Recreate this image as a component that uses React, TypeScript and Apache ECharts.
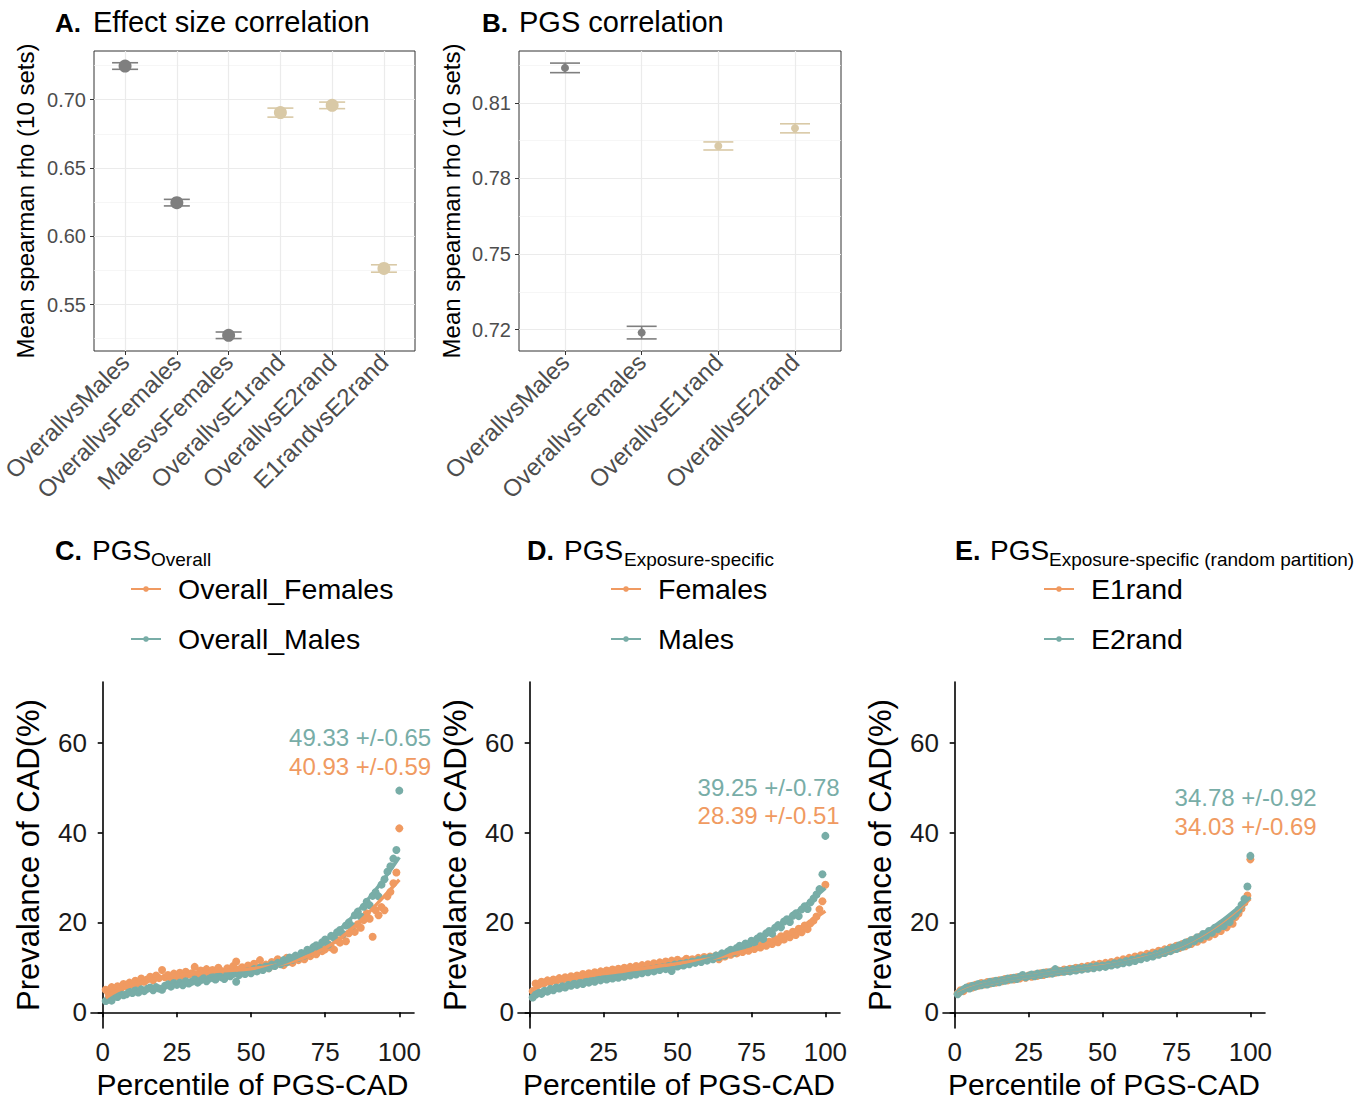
import React, { useEffect, useRef } from "react";
import * as echarts from "echarts";

const FONT = '"Liberation Sans", Arial, Helvetica, sans-serif';
const ORANGE = "#F09A61";
const TEAL = "#78ADA7";
const GREY = "#7F7F7F";
const TAN = "#D9C9A6";

// ---------- Panel A ----------
const catsA = ["OverallvsMales", "OverallvsFemales", "MalesvsFemales", "OverallvsE1rand", "OverallvsE2rand", "E1randvsE2rand"];
const rhoA = [0.7246, 0.6246, 0.5275, 0.6905, 0.6958, 0.5764];
const seA = [0.0024, 0.0024, 0.0024, 0.0033, 0.0024, 0.0027];
const groupA = ["sex", "sex", "sex", "rand", "rand", "rand"];
const ticksA = [0.55, 0.6, 0.65, 0.7];

// ---------- Panel B ----------
const catsB = ["OverallvsMales", "OverallvsFemales", "OverallvsE1rand", "OverallvsE2rand"];
const rhoB = [0.8239, 0.7188, 0.7929, 0.7999];
const seB = [0.0019, 0.0025, 0.0016, 0.0018];
const groupB = ["sex", "sex", "rand", "rand"];
const ticksB = [0.72, 0.75, 0.78, 0.81];

// ---------- Bottom panels ----------
const xTicks = [0, 25, 50, 75, 100];
const yTicks = [0, 20, 40, 60];
const fitX = [1, 5, 10, 15, 20, 25, 30, 35, 40, 45, 50, 55, 60, 65, 70, 75, 80, 85, 90, 95, 100];

// C: PGS Overall
const cMales = [
  2.5, 3.0, 2.6, 3.7, 3.4, 4.1, 3.8, 4.0, 4.6, 4.3,
  4.9, 4.4, 5.1, 4.7, 5.2, 5.5, 4.9, 5.6, 5.3, 5.0,
  5.9, 6.2, 5.7, 6.5, 6.1, 6.6, 6.0, 6.9, 6.4, 6.8,
  7.3, 6.6, 7.1, 7.6, 6.9, 7.5, 7.9, 7.3, 8.2, 7.8,
  7.4, 8.5, 8.0, 8.6, 6.8, 8.3, 8.9, 8.5, 9.2, 8.7,
  9.6, 9.1, 9.9, 9.4, 10.2, 9.8, 10.6, 10.3, 11.0, 10.7,
  11.6, 11.1, 12.2, 11.7, 12.6, 12.1, 13.2, 12.6, 13.9, 13.3,
  14.5, 14.9, 14.2, 15.6, 16.2, 15.1, 17.0, 16.5, 17.8, 18.3,
  17.4, 19.3, 20.0, 19.2, 21.6, 22.4, 21.3, 23.5, 24.6, 23.8,
  25.9, 26.7, 25.8, 28.4, 29.6, 31.3, 32.5, 34.2, 36.1, 49.33,
];
const cFemales = [
  5.0, 4.2, 5.6, 4.9, 5.8, 5.2, 6.3, 5.7, 6.6, 6.1,
  7.0, 6.4, 7.5, 6.8, 7.3, 7.9, 7.1, 8.2, 7.6, 9.4,
  7.8, 8.3, 7.5, 8.6, 8.0, 8.8, 8.1, 9.0, 8.4, 8.7,
  10.1, 8.5, 9.3, 8.8, 9.6, 8.6, 9.4, 9.0, 9.9, 9.2,
  8.7, 9.8, 9.1, 10.3, 11.3, 9.5, 10.0, 9.2, 10.4, 9.6,
  10.8, 9.9, 11.6, 10.2, 10.6, 9.8, 11.2, 10.4, 11.8, 10.9,
  10.5, 12.1, 11.3, 11.0, 12.4, 11.6, 12.2, 11.8, 13.0, 12.5,
  13.4, 12.9, 14.6, 13.6, 14.0, 15.2, 14.4, 13.9, 16.1, 15.5,
  17.2, 15.8, 17.6, 18.4, 17.9, 19.6, 18.8, 20.5, 22.0, 20.8,
  16.8, 22.7, 21.6, 23.4, 22.7, 25.8, 26.8, 28.7, 31.1, 40.93,
];
const cMalesFit = [2.0, 3.3, 4.3, 5.0, 5.6, 6.2, 6.7, 7.2, 7.7, 8.2, 8.8, 9.7, 10.8, 12.1, 13.8, 15.9, 18.5, 21.8, 25.6, 29.8, 34.5];
const cFemalesFit = [3.2, 4.8, 6.0, 7.0, 7.7, 8.2, 8.6, 8.9, 9.2, 9.4, 9.7, 10.1, 10.7, 11.5, 12.7, 14.3, 16.4, 19.2, 22.4, 25.9, 29.5];

// D: PGS Exposure-specific
const dMales = [
  3.3, 3.9, 4.4, 4.1, 4.8, 4.6, 5.2, 4.9, 5.5, 5.3,
  5.8, 5.5, 6.1, 5.9, 6.4, 6.1, 6.6, 6.3, 6.9, 6.6,
  7.2, 6.8, 7.4, 7.1, 7.6, 7.3, 7.8, 7.5, 8.1, 7.7,
  8.3, 7.9, 8.5, 8.2, 8.8, 8.4, 9.0, 8.7, 9.3, 8.9,
  9.5, 9.1, 9.8, 9.4, 10.0, 9.6, 10.3, 9.2, 10.6, 10.2,
  10.8, 10.4, 11.0, 10.7, 11.3, 11.0, 11.6, 11.2, 11.9, 11.5,
  12.2, 11.8, 12.6, 12.3, 13.1, 12.7, 13.5, 13.9, 13.3, 14.3,
  14.8, 14.2, 15.3, 15.0, 15.9, 15.5, 16.4, 16.9, 16.3, 17.6,
  18.1, 17.5, 18.8, 19.4, 18.9, 20.2, 20.7, 20.1, 21.5, 22.0,
  21.4, 22.9, 23.6, 23.0, 24.5, 25.3, 26.2, 27.4, 30.7, 39.25,
];
const dFemales = [
  4.7, 6.4, 6.1, 6.8, 6.5, 7.1, 6.7, 7.3, 7.0, 7.6,
  7.2, 7.8, 7.4, 8.0, 7.7, 8.2, 7.9, 8.5, 8.1, 8.7,
  8.4, 8.9, 8.5, 9.1, 8.8, 9.3, 8.9, 9.5, 9.1, 9.7,
  9.3, 9.9, 9.5, 10.1, 9.7, 10.3, 9.8, 10.5, 10.0, 10.7,
  10.2, 10.9, 10.4, 11.1, 10.6, 11.3, 10.8, 11.5, 11.0, 11.7,
  11.2, 11.4, 11.9, 11.3, 11.8, 11.5, 12.1, 11.7, 12.3, 11.9,
  12.4, 12.0, 12.6, 11.8, 12.9, 12.4, 13.2, 12.8, 13.5, 13.1,
  13.8, 13.4, 14.2, 13.7, 14.5, 14.1, 14.9, 14.4, 15.3, 14.8,
  15.7, 15.2, 16.3, 15.6, 16.9, 16.2, 17.4, 16.7, 17.9, 17.2,
  18.6, 17.8, 19.3, 18.5, 19.8, 20.4, 21.3, 22.9, 24.7, 28.39,
];
const dMalesFit = [3.3, 4.6, 5.5, 6.2, 6.8, 7.3, 7.8, 8.3, 8.8, 9.4, 10.0, 10.7, 11.6, 12.8, 14.3, 15.9, 17.7, 19.8, 22.2, 24.8, 27.6];
const dFemalesFit = [5.0, 6.2, 7.0, 7.6, 8.1, 8.6, 9.0, 9.5, 9.9, 10.4, 10.8, 11.3, 11.8, 12.4, 13.2, 14.1, 15.2, 16.6, 18.3, 20.3, 22.5];

// E: PGS Exposure-specific (random partition)
const eE2 = [
  4.0, 4.6, 5.1, 5.5, 5.3, 5.9, 5.7, 6.3, 6.0, 6.4,
  6.2, 6.8, 6.5, 7.0, 6.7, 7.2, 7.0, 7.5, 7.3, 7.7,
  7.4, 7.9, 8.3, 7.8, 8.1, 8.4, 8.0, 8.6, 8.3, 8.8,
  8.5, 8.9, 8.6, 9.6, 8.9, 9.2, 9.0, 9.4, 9.1, 9.6,
  9.3, 9.8, 9.5, 9.9, 9.7, 10.1, 9.8, 10.3, 10.0, 10.4,
  10.1, 10.6, 10.4, 10.9, 10.6, 11.1, 10.9, 11.4, 11.1, 11.7,
  11.4, 12.0, 11.8, 12.3, 12.1, 12.6, 12.4, 13.0, 12.8, 13.4,
  13.2, 13.9, 13.6, 14.4, 14.1, 14.9, 14.6, 15.5, 15.1, 16.1,
  15.8, 16.7, 16.4, 17.4, 17.0, 18.1, 17.7, 18.8, 18.5, 19.6,
  19.2, 20.4, 20.1, 21.3, 21.9, 22.8, 23.9, 25.2, 28.0, 34.78,
];
const eE1 = [
  4.2, 4.9, 4.7, 5.4, 5.8, 5.5, 6.1, 5.9, 6.5, 6.2,
  6.7, 6.4, 6.9, 6.6, 7.1, 6.9, 7.4, 7.1, 7.6, 7.3,
  7.8, 7.5, 8.0, 7.7, 8.2, 7.9, 8.4, 8.1, 8.7, 8.3,
  8.9, 8.6, 9.1, 8.8, 9.3, 9.0, 9.5, 9.2, 9.7, 9.4,
  9.9, 9.6, 10.1, 9.8, 10.3, 10.0, 10.6, 10.2, 10.8, 10.4,
  11.0, 10.6, 11.2, 10.9, 11.5, 11.1, 11.8, 11.4, 12.1, 11.7,
  12.4, 12.0, 12.7, 12.3, 13.0, 12.6, 13.3, 12.9, 13.7, 13.2,
  14.0, 13.6, 14.4, 14.0, 14.8, 14.3, 15.2, 14.7, 15.7, 15.2,
  16.2, 15.7, 16.8, 16.2, 17.4, 16.8, 18.0, 17.4, 18.7, 18.1,
  19.4, 18.9, 20.2, 19.7, 21.2, 22.0, 23.1, 24.4, 26.0, 34.03,
];
const eE2Fit = [4.0, 5.2, 6.2, 6.9, 7.5, 8.0, 8.5, 9.0, 9.4, 9.8, 10.2, 10.8, 11.4, 12.2, 13.2, 14.5, 16.0, 17.9, 20.2, 22.8, 25.6];
const eE1Fit = [4.1, 5.3, 6.2, 6.9, 7.5, 8.0, 8.5, 9.0, 9.4, 9.8, 10.3, 10.8, 11.5, 12.3, 13.2, 14.4, 15.9, 17.7, 19.9, 22.5, 25.3];

// top percentile estimates with standard errors (annotations)
const topC = { males: [49.33, 0.65], females: [40.93, 0.59] };
const topD = { males: [39.25, 0.78], females: [28.39, 0.51] };
const topE = { e2: [34.78, 0.92], e1: [34.03, 0.69] };
// annotation anchor positions in data units [x, y]
const annC = [[86.8, 61.2], [86.8, 54.6]];
const annD = [[80.8, 50.1], [80.8, 43.7]];
const annE = [[98.4, 47.9], [98.4, 41.4]];

const pct = Array.from({ length: 100 }, (_, i) => i + 1);

function errRender(capW: number, lw: number) {
  return (params: any, api: any) => {
    const x = api.value(0);
    const y = api.value(1);
    const se = api.value(2);
    const top = api.coord([x, y + se]);
    const bot = api.coord([x, y - se]);
    const color = api.visual("color");
    const style = { stroke: color, lineWidth: lw };
    return {
      type: "group",
      children: [
        { type: "line", shape: { x1: top[0], y1: top[1], x2: bot[0], y2: bot[1] }, style },
        { type: "line", shape: { x1: top[0] - capW / 2, y1: top[1], x2: top[0] + capW / 2, y2: top[1] }, style },
        { type: "line", shape: { x1: bot[0] - capW / 2, y1: bot[1], x2: bot[0] + capW / 2, y2: bot[1] }, style },
      ],
    };
  };
}

function topAxes(grid: number, cats: string[], rhoMin: number, rhoMax: number, ticks: number[], splitNumber: number) {
  const idx = cats.map((_, i) => i + 1);
  const x = {
    gridIndex: grid,
    type: "value",
    min: 0.4,
    max: cats.length + 0.6,
    axisLine: { show: false },
    axisTick: { show: true, customValues: idx, length: 4, lineStyle: { color: "#333333", width: 1 } },
    axisLabel: {
      customValues: idx,
      rotate: 45,
      fontSize: 24,
      color: "#4D4D4D",
      fontFamily: FONT,
      margin: 7,
      formatter: (v: number) => cats[Math.round(v) - 1] || "",
    },
    splitLine: { show: true, lineStyle: { color: "#EBEBEB", width: 1.2 } },
  };
  const y = {
    gridIndex: grid,
    type: "value",
    min: rhoMin,
    max: rhoMax,
    splitNumber,
    axisLine: { show: false },
    axisTick: { show: true, customValues: ticks, length: 4, lineStyle: { color: "#333333", width: 1 } },
    axisLabel: {
      customValues: ticks,
      fontSize: 20,
      color: "#4D4D4D",
      fontFamily: FONT,
      margin: 8,
      formatter: (v: number) => v.toFixed(2),
    },
    splitLine: { show: true, lineStyle: { color: "#EBEBEB", width: 1.2 } },
    minorTick: { show: false, splitNumber: 2 },
    minorSplitLine: { show: true, lineStyle: { color: "#F2F2F2", width: 0.7 } },
    name: "Mean spearman rho (10 sets)",
    nameLocation: "middle",
    nameGap: 57,
    nameTextStyle: { fontSize: 24, color: "#000000", fontFamily: FONT },
  };
  return { x, y };
}

function bottomAxes(grid: number) {
  const x = {
    gridIndex: grid,
    type: "value",
    min: -3.95,
    max: 104.95,
    axisLine: { show: true, lineStyle: { color: "#000000", width: 1.6 } },
    axisTick: { show: true, customValues: xTicks, length: 5, lineStyle: { color: "#000000", width: 1.6 } },
    axisLabel: { customValues: xTicks, fontSize: 26, color: "#1A1A1A", fontFamily: FONT, margin: 11 },
    splitLine: { show: false },
    name: "Percentile of PGS-CAD",
    nameLocation: "middle",
    nameGap: 41,
    nameTextStyle: { fontSize: 30, color: "#000000", fontFamily: FONT },
  };
  const y = {
    gridIndex: grid,
    type: "value",
    min: -3.5,
    max: 73.5,
    axisLine: { show: true, lineStyle: { color: "#000000", width: 1.6 } },
    axisTick: { show: true, customValues: yTicks, length: 5, lineStyle: { color: "#000000", width: 1.6 } },
    axisLabel: { customValues: yTicks, fontSize: 26, color: "#1A1A1A", fontFamily: FONT, margin: 4 },
    splitLine: { show: false },
    name: "Prevalance of CAD(%)",
    nameLocation: "middle",
    nameGap: 47,
    nameTextStyle: { fontSize: 31, color: "#000000", fontFamily: FONT },
  };
  return { x, y };
}

function topSeries(axis: number, cats: string[], rho: number[], se: number[], group: string[], dot: number, capW: number) {
  const out: any[] = [];
  const groups: [string, string][] = [["sex", GREY], ["rand", TAN]];
  groups.forEach(([g, color]) => {
    const data = cats.map((_, i) => [i + 1, rho[i], se[i]]).filter((_, i) => group[i] === g);
    out.push({
      type: "custom",
      xAxisIndex: axis,
      yAxisIndex: axis,
      itemStyle: { color },
      renderItem: errRender(capW, 1.6),
      data,
      z: 3,
    });
    out.push({
      type: "scatter",
      xAxisIndex: axis,
      yAxisIndex: axis,
      symbol: "circle",
      symbolSize: dot,
      itemStyle: { color, opacity: 1 },
      data: data.map((d) => [d[0], d[1]]),
      z: 4,
    });
  });
  return out;
}

function bottomSeries(
  axis: number,
  names: [string, string],
  orangeVals: number[],
  tealVals: number[],
  orangeFit: number[],
  tealFit: number[],
  top: [number[], number[]],
  ann: number[][],
) {
  const pts = (vals: number[]) => pct.map((p, i) => [p, vals[i]]);
  const fit = (vals: number[]) => fitX.map((x, i) => [x, vals[i]]);
  const [tealTop, orangeTop] = top;
  const fmt = (t: number[]) => `${t[0].toFixed(2)} +/-${t[1].toFixed(2)}`;
  return [
    {
      type: "scatter", name: names[0] + " points", xAxisIndex: axis, yAxisIndex: axis,
      symbolSize: 8, itemStyle: { color: ORANGE, opacity: 1 }, data: pts(orangeVals), z: 2,
    },
    {
      type: "scatter", name: names[1] + " points", xAxisIndex: axis, yAxisIndex: axis,
      symbolSize: 8, itemStyle: { color: TEAL, opacity: 1 }, data: pts(tealVals), z: 2,
    },
    {
      type: "custom", xAxisIndex: axis, yAxisIndex: axis, itemStyle: { color: ORANGE },
      renderItem: errRender(0, 2.5), data: [[100, orangeTop[0], orangeTop[1]]], z: 2,
    },
    {
      type: "custom", xAxisIndex: axis, yAxisIndex: axis, itemStyle: { color: TEAL },
      renderItem: errRender(0, 2.5), data: [[100, tealTop[0], tealTop[1]]], z: 2,
    },
    {
      type: "line", name: names[0], xAxisIndex: axis, yAxisIndex: axis, smooth: 0.4,
      symbol: "circle", showSymbol: false, symbolSize: 6,
      lineStyle: { color: ORANGE, width: 3.5 }, itemStyle: { color: ORANGE },
      data: fit(orangeFit), z: 3,
    },
    {
      type: "line", name: names[1], xAxisIndex: axis, yAxisIndex: axis, smooth: 0.4,
      symbol: "circle", showSymbol: false, symbolSize: 6,
      lineStyle: { color: TEAL, width: 3.5 }, itemStyle: { color: TEAL },
      data: fit(tealFit), z: 3,
    },
    {
      type: "scatter", xAxisIndex: axis, yAxisIndex: axis, symbolSize: 1,
      itemStyle: { color: "rgba(0,0,0,0)", opacity: 1 }, silent: true, z: 5,
      data: [
        { value: [ann[0][0], ann[0][1]], label: { show: true, position: "inside", formatter: fmt(tealTop), color: TEAL, opacity: 1, fontSize: 24, fontFamily: FONT } },
        { value: [ann[1][0], ann[1][1]], label: { show: true, position: "inside", formatter: fmt(orangeTop), color: ORANGE, opacity: 1, fontSize: 24, fontFamily: FONT } },
      ],
    },
  ];
}

function legendFor(names: [string, string], left: number) {
  return {
    data: names,
    orient: "vertical",
    left,
    top: 573,
    padding: 0,
    itemWidth: 30,
    itemHeight: 7,
    itemGap: 18,
    selectedMode: false,
    textStyle: { fontSize: 28.5, color: "#000000", fontFamily: FONT, lineHeight: 32, padding: [0, 0, 0, 12] },
  };
}

function titleText(x: number, y: number, text: string, size: number, bold = false) {
  return {
    type: "text",
    x,
    y,
    style: {
      text,
      fill: "#000000",
      font: `${bold ? "bold " : ""}${size}px ${FONT}`,
      verticalAlign: "middle",
      align: "left",
    },
  };
}

export default function App() {
  const ref = useRef<HTMLDivElement>(null);
  useEffect(() => {
    document.body.style.margin = "0";
    if (!ref.current) return;
    const chart = echarts.init(ref.current, undefined, { renderer: "svg" });
    const a = topAxes(0, catsA, 0.516, 0.7356, ticksA, 5);
    const b = topAxes(1, catsB, 0.7115, 0.8306, ticksB, 4);
    b.y.nameGap = 56;
    const c = bottomAxes(2);
    const d = bottomAxes(3);
    const e = bottomAxes(4);
    const gridBase = { outerBoundsMode: "none", containLabel: false };
    const option: any = {
      animation: false,
      textStyle: { fontFamily: FONT },
      grid: [
        { ...gridBase, left: 94, top: 51, width: 321, height: 300, show: true, borderColor: "#333333", borderWidth: 1, backgroundColor: "transparent" },
        { ...gridBase, left: 519, top: 51, width: 322, height: 300, show: true, borderColor: "#333333", borderWidth: 1, backgroundColor: "transparent" },
        { ...gridBase, left: 91, top: 682, width: 323, height: 346 },
        { ...gridBase, left: 518, top: 682, width: 322, height: 346 },
        { ...gridBase, left: 943, top: 682, width: 322, height: 346 },
      ],
      xAxis: [a.x, b.x, c.x, d.x, e.x],
      yAxis: [a.y, b.y, c.y, d.y, e.y],
      legend: [
        legendFor(["Overall_Females", "Overall_Males"], 130),
        legendFor(["Females", "Males"], 610),
        legendFor(["E1rand", "E2rand"], 1043),
      ],
      graphic: [
        titleText(55, 23, "A.", 26, true),
        titleText(93, 22, "Effect size correlation", 29),
        titleText(482, 23, "B.", 26, true),
        titleText(519, 22, "PGS correlation", 29),
        titleText(55, 551, "C.", 27, true),
        titleText(92, 550, "PGS", 28),
        titleText(151, 559, "Overall", 19),
        titleText(527, 551, "D.", 27, true),
        titleText(564, 550, "PGS", 28),
        titleText(624, 559, "Exposure-specific", 19),
        titleText(955, 551, "E.", 27, true),
        titleText(990, 550, "PGS", 28),
        titleText(1049, 559, "Exposure-specific (random partition)", 19),
      ],
      series: [
        ...topSeries(0, catsA, rhoA, seA, groupA, 13, 26),
        ...topSeries(1, catsB, rhoB, seB, groupB, 8, 30),
        ...bottomSeries(2, ["Overall_Females", "Overall_Males"], cFemales, cMales, cFemalesFit, cMalesFit, [topC.males, topC.females], annC),
        ...bottomSeries(3, ["Females", "Males"], dFemales, dMales, dFemalesFit, dMalesFit, [topD.males, topD.females], annD),
        ...bottomSeries(4, ["E1rand", "E2rand"], eE1, eE2, eE1Fit, eE2Fit, [topE.e2, topE.e1], annE),
      ],
    };
    chart.setOption(option);
    return () => chart.dispose();
  }, []);
  return <div ref={ref} style={{ width: 1357, height: 1101 }} />;
}
